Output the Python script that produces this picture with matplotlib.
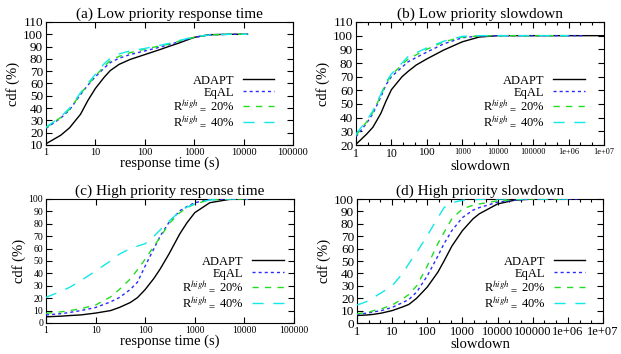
import matplotlib
matplotlib.use("Agg")
import matplotlib.pyplot as plt
from matplotlib.ticker import FixedLocator, NullLocator, FixedFormatter
import numpy as np

plt.rcParams['font.family'] = ['Liberation Serif', 'DejaVu Serif']
plt.rcParams['mathtext.fontset'] = 'stix'
plt.rcParams['lines.scale_dashes'] = False

nan = np.nan

# serie e etichette
series_names = ['ADAPT', 'EqAL', r'R$^{high}{}_{=}$ 20%', r'R$^{high}{}_{=}$ 40%']
colors = ['black', '#2a2aff', '#22dd22', '#11e8e8']
dashes = [None, (2.2, 2.2), (4.5, 4.5), (8, 7)]

# (a) Low priority response time
x_a = [1, 2, 3, 5, 7, 10, 15, 20, 30, 50, 100, 200, 300, 500, 1000, 2000, 5000, 12000]
adapt_a = [11, 18, 24, 35, 46, 56, 65, 70.5, 75.5, 79.5, 83.5, 87.5, 90, 93, 97.5, 99.7, 100, 100]
eqal_a = [23.5, 32, 38.5, 51, 58.5, 65.5, 72.5, 77, 80.5, 83.5, 86.5, 89.5, 91.5, 94, 97.5, 99.5, 100, 100]
r20_a = [24, 32.5, 39, 51.5, 59, 66, 74, 78.5, 82, 85, 88, 90.5, 92, 94.5, 97.5, 99.5, 100, 100]
r40_a = [24.5, 33, 40, 52.5, 60, 67.5, 76, 80.5, 84, 86.5, 88.5, 91, 92.5, 95, 98, 99.5, 100, 100]

# (b) Low priority slowdown
x_b = [1, 2, 3, 5, 7, 10, 20, 30, 50, 100, 300, 1000, 3000, 10000, 100000, 1e6, 3e6, 1e7]
adapt_b = [20.5, 28, 33, 43, 52, 60.5, 70, 74, 78.5, 83, 89.5, 95.5, 99, 100, 100, 100, 100, 100]
eqal_b = [26, 36, 43, 55, 64, 70, 77, 81, 84, 88, 94, 98.5, 99.7, 100, 100, 100, 100, nan]
r20_b = [27, 37, 44, 56, 65, 71, 79, 83, 86, 90, 95.5, 99, 99.8, 100, 100, 100, nan, nan]
r40_b = [28, 38, 45, 57, 66, 72, 80, 85, 87.5, 91, 96, 99.5, 100, 100, 100, 100, nan, nan]

# (c) High priority response time
x_c = [1, 2, 3, 5, 10, 20, 30, 50, 70, 100, 150, 200, 300, 500, 700, 1000, 2000, 5000, 12000]
adapt_c = [5, 5.5, 6, 6.5, 8, 10, 12.5, 16.5, 20.5, 27, 36, 43.5, 55.5, 72, 81, 89, 97, 99.7, 100]
eqal_c = [6.5, 7.5, 8.5, 10, 12.5, 17, 20.5, 27, 33, 46, 60, 70, 81, 90.5, 94, 97, 99.5, 100, 100]
r20_c = [7.8, 9, 10, 11.5, 14.5, 21, 27, 35.5, 43, 51.5, 62, 69, 80, 89, 93, 96, 99.3, 100, 100]
r40_c = [20.7, 25.5, 28.8, 34, 42, 50, 55.5, 60, 62, 64, 70, 75, 82, 90, 93.5, 96, 99.3, 100, 100]

# (d) High priority slowdown
x_d = [1, 2, 3, 5, 10, 20, 30, 50, 100, 200, 300, 500, 1000, 2000, 3000, 10000, 30000, 100000, 1e6, 2e6, 1e7]
adapt_d = [6, 6.5, 7, 8, 10, 13, 15, 20, 29, 41, 50, 62, 74.5, 84, 88, 96, 99, 100, 100, 100, 100]
eqal_d = [7, 8, 9, 10, 12.6, 16.5, 19, 25, 38, 54, 64, 74.5, 85, 91, 93, 97.5, 99, 100, 100, 100, nan]
r20_d = [7.5, 8.5, 10, 11.5, 14.5, 19.5, 23, 30, 46, 64, 73, 84, 92, 95, 96, 98.5, 99.5, 100, 100, nan, nan]
r40_d = [14.5, 17.5, 20.7, 24.5, 30, 40, 48, 57, 70.4, 85, 93, 97, 99, 99.5, 99.7, 100, 100, 100, 100, nan, nan]

xt_short = [1, 10, 100, 1000, 10000, 100000]
xt_long = [1, 10, 100, 1000, 10000, 100000, 1e6, 1e7]
xl_short = ['1', '10', '100', '1000', '10000', '100000']
xl_long = ['1', '10', '100', '1000', '10000', '100000', '1e+06', '1e+07']
# tacche minori (solo pannelli slowdown)
minor_long = [10 ** (k + f) for k in range(7) for f in (1 / 3, 2 / 3)]

panels = [
    dict(title='(a) Low priority response time', xlabel='response time (s)', x=x_a,
         ys=[adapt_a, eqal_a, r20_a, r40_a], xlim=(1, 100000), ylim=(10, 110),
         yticks=range(10, 111, 10), xt=xt_short, xl=xl_short, minor=[],
         pos=[46, 22, 293, 145], yfs=9.5, xfs=[7.5] * 6, leg=(0.925, 0.13)),
    dict(title='(b) Low priority slowdown', xlabel='slowdown', x=x_b,
         ys=[adapt_b, eqal_b, r20_b, r40_b], xlim=(1, 1e7), ylim=(20, 110),
         yticks=range(20, 111, 10), xt=xt_long, xl=xl_long, minor=minor_long,
         pos=[356, 22, 604, 145], yfs=9.5, xfs=[8.5, 8.5, 8, 6, 6, 6, 6, 6], leg=(0.922, 0.13)),
    dict(title='(c) High priority response time', xlabel='response time (s)', x=x_c,
         ys=[adapt_c, eqal_c, r20_c, r40_c], xlim=(1, 100000), ylim=(0, 100),
         yticks=range(0, 101, 10), xt=xt_short, xl=xl_short, minor=[],
         pos=[46, 199, 294, 323], yfs=7, xfs=[7] * 6, leg=(0.958, 0.105)),
    dict(title='(d) High priority slowdown', xlabel='slowdown', x=x_d,
         ys=[adapt_d, eqal_d, r20_d, r40_d], xlim=(1, 1e7), ylim=(0, 100),
         yticks=range(0, 101, 10), xt=xt_long, xl=xl_long, minor=minor_long,
         pos=[357, 199, 603, 323], yfs=9.5, xfs=[9] * 8, leg=(0.928, 0.105)),
]

W, H = 621, 354
fig = plt.figure(figsize=(W / 100, H / 100), dpi=100)

for p in panels:
    l, t, r, b = p['pos']
    ax = fig.add_axes([l / W, (H - b) / H, (r - l) / W, (b - t) / H])
    for i in range(4):
        line, = ax.plot(p['x'], p['ys'][i], color=colors[i], lw=1.0,
                        label=series_names[i], zorder=2 + i)
        if dashes[i] is not None:
            line.set_dashes(dashes[i])
    ax.set_xscale('log')
    ax.set_xlim(*p['xlim'])
    ax.set_ylim(*p['ylim'])
    ax.xaxis.set_major_locator(FixedLocator(p['xt']))
    ax.xaxis.set_major_formatter(FixedFormatter(p['xl']))
    if p['minor']:
        ax.xaxis.set_minor_locator(FixedLocator(p['minor']))
    else:
        ax.xaxis.set_minor_locator(NullLocator())
    ax.set_yticks(list(p['yticks']))
    ax.tick_params(direction='in', top=True, right=True, length=4, width=0.8, pad=2)
    ax.tick_params(which='minor', direction='in', top=True, length=2.5, width=0.8)
    ax.tick_params(axis='y', labelsize=p['yfs'])
    for lab, fs in zip(ax.get_xticklabels(), p['xfs']):
        lab.set_fontsize(fs)
    for s in ax.spines.values():
        s.set_linewidth(0.8)
    ax.set_title(p['title'], fontsize=11, pad=3)
    ax.set_xlabel(p['xlabel'], fontsize=10.5, labelpad=0)
    ax.set_ylabel('cdf (%)', fontsize=10.5, labelpad=2)
    ax.legend(loc='lower right', bbox_to_anchor=p['leg'], frameon=False,
              markerfirst=False, fontsize=9, handlelength=2.5, handletextpad=0.7,
              labelspacing=0.0, borderpad=0, borderaxespad=0)

fig.savefig('out.png', dpi=100)
